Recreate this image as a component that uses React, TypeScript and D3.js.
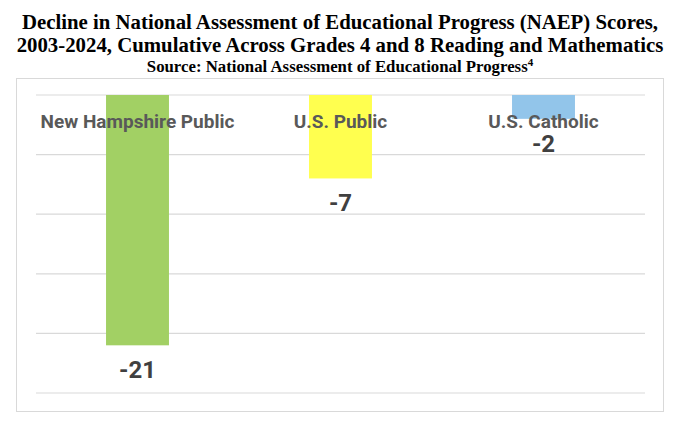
import * as d3 from 'd3'

// chart data
const categories = ['New Hampshire Public', 'U.S. Public', 'U.S. Catholic']
const declines = [-21, -7, -2]
const barColors = ['#A2D064', '#FFFF4F', '#92C5EA']
const gridTicks = [0, -5, -10, -15, -20, -25]

const titleLines = [
  'Decline in National Assessment of Educational Progress (NAEP) Scores,',
  '2003-2024, Cumulative Across Grades 4 and 8 Reading and Mathematics',
]
const sourceText = 'Source: National Assessment of Educational Progress'

export default function App() {
  const width = 680,
    height = 433

  // plot area inside the light grey frame
  const plot = { left: 36, right: 645, top: 95, bottom: 393 }

  const x = d3.scaleBand()
    .domain(categories)
    .range([plot.left, plot.right])
    .paddingInner(0.69)
    .paddingOuter(0.345)

  const y = d3.scaleLinear()
    .domain([0, -25])
    .range([plot.top, plot.bottom])

  const labelFont = 'Roboto, "Liberation Sans", Arial, sans-serif'
  const serif = '"Liberation Serif", "Times New Roman", serif'

  return (
    <svg
      width={width}
      height={height}
      style={{ position: 'absolute', left: 0, top: 0, background: '#fff' }}
    >
      {/* title */}
      {titleLines.map((t, i) => (
        <text
          key={i}
          x={width / 2}
          y={29 + i * 23}
          textAnchor="middle"
          fontFamily={serif}
          fontWeight="bold"
          fontSize={20.8}
          fill="#000"
        >
          {t}
        </text>
      ))}
      <text
        x={width / 2}
        y={71.5}
        textAnchor="middle"
        fontFamily={serif}
        fontWeight="bold"
        fontSize={16.8}
        fill="#000"
      >
        {sourceText}
        <tspan fontSize={11} dy={-6}>4</tspan>
      </text>

      {/* chart frame */}
      <rect x={16.5} y={78.5} width={647} height={333} fill="#fff" stroke="#d9d9d9" strokeWidth={1} />

      {/* gridlines */}
      {gridTicks.map(t => (
        <line
          key={t}
          x1={plot.left}
          x2={plot.right}
          y1={y(t)}
          y2={y(t)}
          stroke="#d9d9d9"
          strokeWidth={1.2}
        />
      ))}

      {/* bars */}
      {categories.map((c, i) => (
        <rect
          key={c}
          x={x(c)}
          y={y(0)}
          width={x.bandwidth()}
          height={y(declines[i]) - y(0)}
          fill={barColors[i]}
        />
      ))}

      {/* category labels, drawn over the bars */}
      {categories.map(c => (
        <text
          key={c}
          x={(x(c) ?? 0) + x.bandwidth() / 2}
          y={128}
          textAnchor="middle"
          fontFamily={labelFont}
          fontWeight="bold"
          fontSize={19}
          fill="#595959"
        >
          {c}
        </text>
      ))}

      {/* value labels */}
      {categories.map((c, i) => (
        <text
          key={c}
          x={(x(c) ?? 0) + x.bandwidth() / 2}
          y={y(declines[i]) + 33}
          textAnchor="middle"
          fontFamily={labelFont}
          fontWeight="bold"
          fontSize={24}
          fill="#404040"
        >
          {declines[i]}
        </text>
      ))}
    </svg>
  )
}
